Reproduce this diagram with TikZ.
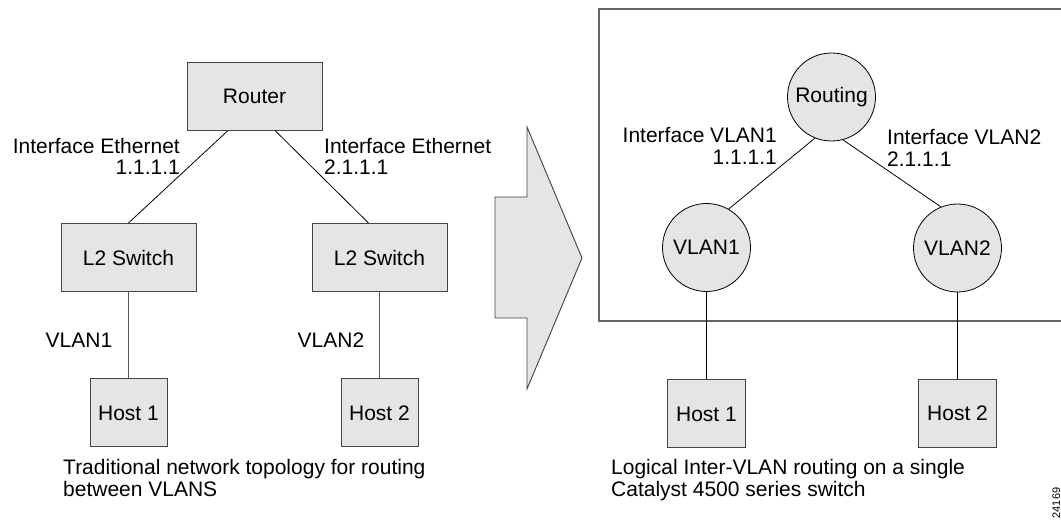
\documentclass[tikz,border=0pt]{standalone}
\usepackage{fontspec}
\setmainfont{Liberation Sans}
\usetikzlibrary{calc}
\definecolor{boxfill}{HTML}{E5E5E5}
\definecolor{edge}{HTML}{444444}
\tikzset{
  x=1pt, y=-1pt,
  every node/.style={font=\fontsize{21}{21}\selectfont, inner sep=0pt},
  rbox/.style={draw=edge, line width=1pt, fill=boxfill, minimum width=135pt, minimum height=68pt},
  hbox/.style={draw=edge, line width=1pt, fill=boxfill, minimum width=77pt, minimum height=68pt},
  cnode/.style={circle, draw=black, line width=0.8pt, fill=boxfill, minimum size=88pt},
  link/.style={draw=black, line width=0.8pt},
  glink/.style={draw=black!65, line width=1pt},
  lbl/.style={text=black},
}
\begin{document}
\begin{tikzpicture}
\useasboundingbox (0,0) rectangle (1061,526);
% ---- left: traditional topology
\node[rbox] (router) at (254.5,96.5) {Router};
\node[rbox] (sw1) at (128.5,257.5) {L2 Switch};
\node[rbox] (sw2) at (379.5,257.5) {L2 Switch};
\node[hbox] (h1) at (128.5,413) {Host 1};
\node[hbox] (h2) at (379.5,413) {Host 2};
\draw[link] ($(router.south)+(-27,0)$) -- (sw1.north);
\draw[link] ($(router.south)+(21,0)$) -- ($(sw2.north)+(-11,0)$);
\draw[glink] (sw1) -- (h1);
\draw[glink] (sw2) -- (h2);
\node[lbl, anchor=north east, align=right] (ie1) at (180,138) {Interface Ethernet\\1.1.1.1};
\node[lbl, anchor=north west, align=left] (ie2) at (324,138) {Interface Ethernet\\2.1.1.1};
\node[lbl] (v1l) at (79,340.5) {VLAN1};
\node[lbl] (v2l) at (331,340.5) {VLAN2};
\node[lbl, anchor=north west, align=left] (cap1) at (63,459) {Traditional network topology for routing\\[1pt]between VLANS};
% ---- arrow
\draw[draw=black!75, line width=0.9pt, fill=boxfill, line join=miter]
  (495,197) -- (527,197) -- (527,127) -- (582,258) -- (527,389) -- (527,318) -- (495,318) -- cycle;
% ---- right: logical inter-VLAN routing
\draw[draw=black!60, line width=1.3pt] (599,9) rectangle (1080,321);
\node[cnode] (rt) at (831.5,97) {Routing};
\node[cnode] (vl1) at (706.5,247.5) {VLAN1};
\node[cnode] (vl2) at (957.5,248) {VLAN2};
\node[hbox, minimum width=78pt] (rh1) at (706.5,414) {Host 1};
\node[hbox, minimum width=78pt] (rh2) at (957.5,413.5) {Host 2};
\draw[link] (rt.-112) -- (vl1.60);
\draw[link] (rt.-75) -- (vl2.112);
\draw[link] (vl1) -- (rh1);
\draw[link] (vl2) -- (rh2);
\node[lbl, anchor=north east, align=right] (iv1) at (777,127) {Interface VLAN1\\[1pt]1.1.1.1};
\node[lbl, anchor=north west, align=left] (iv2) at (887,129) {Interface VLAN2\\[1pt]2.1.1.1};
\node[lbl, anchor=north west, align=left] (cap2) at (611,459) {Logical Inter-VLAN routing on a single\\[1pt]Catalyst 4500 series switch};
\node[lbl, rotate=90, anchor=south, font=\fontsize{11}{11}\selectfont] (fig) at (1060.5,503) {24169};
\end{tikzpicture}
\end{document}
